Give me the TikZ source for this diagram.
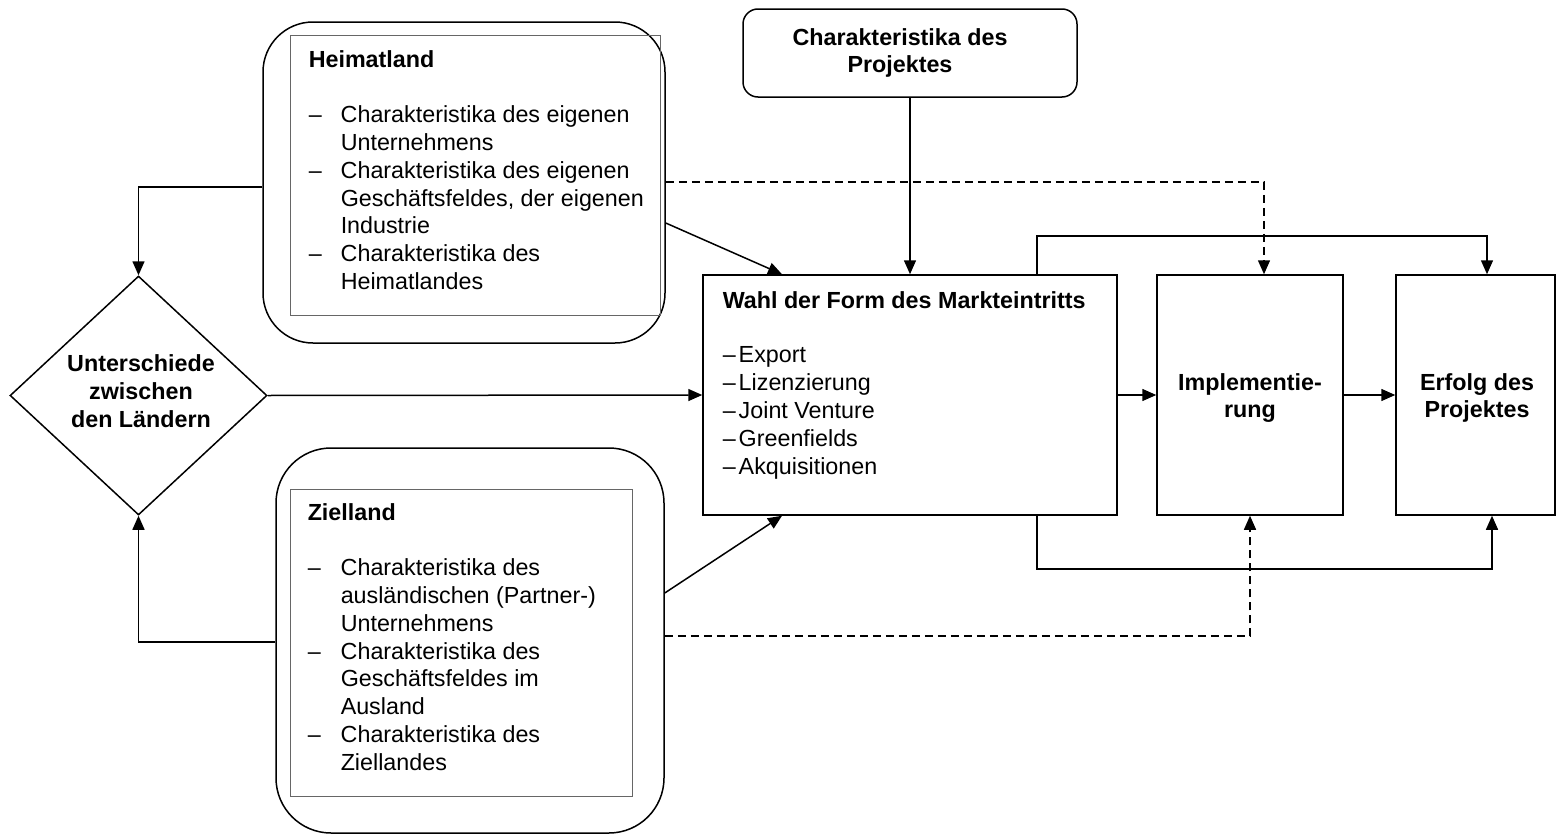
\documentclass[tikz,border=0pt]{standalone}
\usepackage{fontspec}
\setmainfont{Liberation Sans}
\usetikzlibrary{arrows.meta,shapes.geometric}
\newcommand\mydash[1]{\makebox[#1][l]{–}}
\newcommand\myind[1]{\hspace*{#1}}
\begin{document}
\begin{tikzpicture}[x=1pt,y=-1pt,
  line width=1.5pt,
  every node/.style={font=\fontsize{23.3}{27.8}\selectfont},
  arr/.style={-{Triangle[length=14pt,width=12pt]}},
  dsh/.style={dash pattern=on 8pt off 5pt},
  box/.style={draw, rectangle, inner sep=0pt, line width=1.5pt},
  inbox/.style={draw=black!60, rectangle, inner sep=0pt, line width=1pt},
  txt/.style={inner sep=0pt, align=center, font=\fontsize{23.3}{27.8}\selectfont\bfseries},
  lst/.style={inner sep=0pt, anchor=base west}]
\useasboundingbox (0,0) rectangle (1559,835);

% Heimatland
\node[box, rounded corners=50pt, minimum width=402pt, minimum height=321pt] (hout) at (464,182.5) {};
\node[inbox, minimum width=370pt, minimum height=280pt] (hin) at (475,175) {};
\node[lst] (htext) at (308,67) {\begin{tabular}[t]{@{}l@{}}
\textbf{Heimatland}\\
\\
\mydash{32pt}Charakteristika des eigenen\\
\myind{32pt}Unternehmens\\
\mydash{32pt}Charakteristika des eigenen\\
\myind{32pt}Geschäftsfeldes, der eigenen\\
\myind{32pt}Industrie\\
\mydash{32pt}Charakteristika des\\
\myind{32pt}Heimatlandes
\end{tabular}};

% Zielland
\node[box, rounded corners=55pt, minimum width=388pt, minimum height=385pt] (zout) at (470,640.5) {};
\node[inbox, minimum width=342pt, minimum height=307pt] (zin) at (461,642.5) {};
\node[lst] (ztext) at (307,520) {\begin{tabular}[t]{@{}l@{}}
\textbf{Zielland}\\
\\
\mydash{33pt}Charakteristika des\\
\myind{33pt}ausländischen (Partner-)\\
\myind{33pt}Unternehmens\\
\mydash{33pt}Charakteristika des\\
\myind{33pt}Geschäftsfeldes im\\
\myind{33pt}Ausland\\
\mydash{33pt}Charakteristika des\\
\myind{33pt}Ziellandes
\end{tabular}};

% Diamond
\node[draw, diamond, inner sep=0pt, minimum width=257pt, minimum height=239pt] (dia) at (138.5,395.5) {};
\node[txt] (diatext) at (141,391) {Unterschiede\\zwischen\\den Ländern};

% Projekt
\node[box, rounded corners=15pt, minimum width=334pt, minimum height=88pt] (proj) at (910,53) {};
\node[txt] (projtext) at (900,53) {Charakteristika des\\Projektes};

% Wahl
\node[box, minimum width=414pt, minimum height=240pt] (wahl) at (910,395) {};
\node[lst] (wtext) at (722,308) {\begin{tabular}[t]{@{}l@{}}
\textbf{Wahl der Form des Markteintritts}\\
\\[-0.8pt]
\mydash{16pt}Export\\
\mydash{16pt}Lizenzierung\\
\mydash{16pt}Joint Venture\\
\mydash{16pt}Greenfields\\
\mydash{16pt}Akquisitionen
\end{tabular}};

% Implementierung, Erfolg
\node[box, minimum width=186pt, minimum height=240pt] (impl) at (1250,395) {};
\node[txt] (impltext) at (1250,398) {Implementie-\\rung};
\node[box, minimum width=159pt, minimum height=240pt] (erf) at (1475.5,395) {};
\node[txt] (erftext) at (1477,398) {Erfolg des\\Projektes};

% connectors
\draw[arr] (hout.west |- 0,187) -| (dia.north);
\draw[arr] (zout.west |- 0,642) -| (dia.south);
\draw[arr] (dia.east) -- (wahl.west);
\draw[arr] (hout.east |- 0,223) -- (782,0 |- wahl.north);
\draw[arr] (zout.east |- 0,593) -- (782,0 |- wahl.south);
\draw[arr] (proj.south) -- (wahl.north);
\draw[arr] (wahl.east) -- (impl.west);
\draw[arr] (impl.east) -- (erf.west);
\draw[arr] (wahl.north -| 1037,0) |- (1487,236) -- (erf.north -| 1487,0);
\draw[arr] (wahl.south -| 1037,0) |- (1492,569) -- (erf.south -| 1492,0);
\draw[arr, dsh] (hout.east |- 0,182) -| (impl.north -| 1264,0);
\draw[arr, dsh] (zout.east |- 0,636) -| (impl.south -| 1250,0);
\end{tikzpicture}
\end{document}
